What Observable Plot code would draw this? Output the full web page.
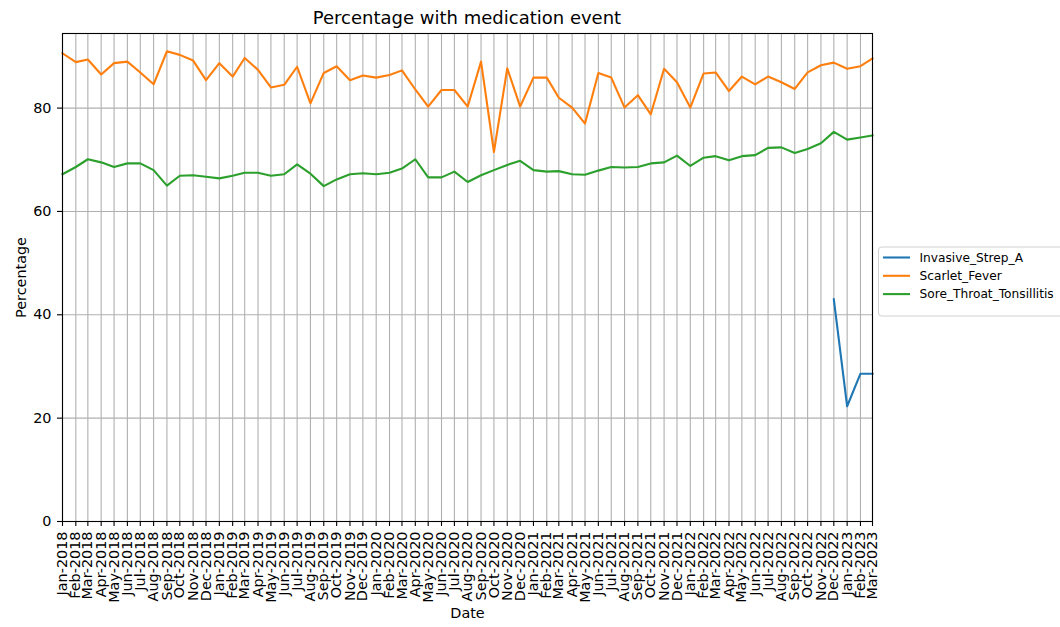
<!DOCTYPE html>
<html><head><meta charset="utf-8">
<script src="https://cdn.jsdelivr.net/npm/d3@7"></script>
<script src="https://cdn.jsdelivr.net/npm/@observablehq/plot@0.6"></script>
<style>body{margin:0;background:#fff;} #chart svg{display:block}</style>
</head><body><div id="chart"></div>
<script>
const months = [
 "2018-01","2018-02","2018-03","2018-04","2018-05","2018-06","2018-07","2018-08","2018-09","2018-10","2018-11","2018-12",
 "2019-01","2019-02","2019-03","2019-04","2019-05","2019-06","2019-07","2019-08","2019-09","2019-10","2019-11","2019-12",
 "2020-01","2020-02","2020-03","2020-04","2020-05","2020-06","2020-07","2020-08","2020-09","2020-10","2020-11","2020-12",
 "2021-01","2021-02","2021-03","2021-04","2021-05","2021-06","2021-07","2021-08","2021-09","2021-10","2021-11","2021-12",
 "2022-01","2022-02","2022-03","2022-04","2022-05","2022-06","2022-07","2022-08","2022-09","2022-10","2022-11","2022-12",
 "2023-01","2023-02","2023-03"];
const seriesNames = ["Invasive_Strep_A","Scarlet_Fever","Sore_Throat_Tonsillitis"];
const seriesColors = ["#1f77b4","#ff7f0e","#2ca02c"];
const invasiveStrepA = [
 null,null,null,null,null,null,null,null,null,null,null,null,
 null,null,null,null,null,null,null,null,null,null,null,null,
 null,null,null,null,null,null,null,null,null,null,null,null,
 null,null,null,null,null,null,null,null,null,null,null,null,
 null,null,null,null,null,null,null,null,null,null,null,43.0,
 22.3,28.6,28.6];
const scarletFever = [
 90.6,88.9,89.4,86.5,88.7,89.0,86.9,84.6,91.0,90.3,89.2,85.4,
 88.7,86.1,89.7,87.4,84.0,84.5,88.0,80.9,86.8,88.1,85.4,86.3,
 85.9,86.4,87.3,83.6,80.3,83.5,83.5,80.3,89.0,71.5,87.7,80.3,
 85.9,85.9,82.0,80.1,77.0,86.8,85.9,80.1,82.5,78.8,87.6,85.0,
 80.1,86.7,86.9,83.3,86.1,84.6,86.1,85.0,83.7,86.9,88.3,88.8,
 87.6,88.1,89.6];
const soreThroatTonsillitis = [
 67.2,68.6,70.1,69.5,68.6,69.3,69.3,68.0,65.0,66.9,67.0,66.7,
 66.4,66.9,67.5,67.5,66.9,67.2,69.1,67.3,64.9,66.2,67.2,67.4,
 67.2,67.5,68.3,70.1,66.6,66.6,67.7,65.7,67.0,68.0,69.0,69.8,
 68.0,67.7,67.8,67.2,67.1,67.9,68.6,68.5,68.6,69.3,69.5,70.8,
 68.8,70.4,70.7,69.9,70.7,70.9,72.3,72.4,71.3,72.1,73.2,75.4,
 73.9,74.3,74.7];
const yTicks = [0,20,40,60,80];

const parse = d3.utcParse("%Y-%m");
const dates = months.map(parse);
const seriesValues = [invasiveStrepA, scarletFever, soreThroatTonsillitis];
const rows = [];
seriesNames.forEach((name, s) => {
  seriesValues[s].forEach((v, i) => { if (v != null) rows.push({date: dates[i], value: v, series: name}); });
});
const vals = rows.map(d => d.value);
const vmax = d3.max(vals), vmin = d3.min(vals);
const ymax = vmax + 0.05 * (vmax - vmin);

const W = 1060, H = 627, mL = 62, mR = 188, mT = 33, mB = 106;
const gridStyle = {stroke: "#b0b0b0", strokeOpacity: 1, strokeWidth: 1.1};

const chart = Plot.plot({
  width: W, height: H, marginLeft: mL, marginRight: mR, marginTop: mT, marginBottom: mB,
  style: {fontFamily: "DejaVu Sans", fontSize: "14.4px", background: "white", color: "black"},
  x: {type: "utc", domain: [dates[0], dates[dates.length - 1]]},
  y: {domain: [0, ymax]},
  color: {domain: seriesNames, range: seriesColors},
  marks: [
    Plot.gridX(dates, gridStyle),
    Plot.gridY(yTicks, gridStyle),
    Plot.line(rows, {x: "date", y: "value", z: "series", stroke: "series", strokeWidth: 2.1, strokeLinejoin: "round", strokeLinecap: "square"}),
    Plot.frame({stroke: "black", strokeWidth: 1.1}),
    Plot.axisX(dates, {tickFormat: d3.utcFormat("%b-%Y"), tickRotate: -90, tickSize: 5, tickPadding: 5, strokeWidth: 1.1,
      label: "Date", labelAnchor: "center", labelArrow: "none", labelOffset: 96}),
    Plot.axisY(yTicks, {tickSize: 5, tickPadding: 6, strokeWidth: 1.1,
      label: "Percentage", labelAnchor: "center", labelArrow: "none", labelOffset: 47})
  ]
});
document.getElementById("chart").appendChild(chart);

const svg = d3.select(chart);
svg.append("text")
  .attr("x", (mL + (W - mR)) / 2).attr("y", 23.5)
  .attr("text-anchor", "middle")
  .attr("font-family", "DejaVu Sans").attr("font-size", "18px").attr("fill", "black")
  .text("Percentage with medication event");

const lg = svg.append("g");
lg.append("rect").attr("x", 878.5).attr("y", 247).attr("width", 200).attr("height", 69)
  .attr("rx", 3).attr("fill", "white").attr("stroke", "#d0d0d0");
seriesNames.forEach((name, i) => {
  const y = 257.5 + i * 18.3;
  lg.append("line").attr("x1", 883).attr("x2", 910).attr("y1", y).attr("y2", y)
    .attr("stroke", seriesColors[i]).attr("stroke-width", 2.1);
  lg.append("text").attr("x", 919.5).attr("y", y).attr("dy", "0.35em")
    .attr("text-anchor", "start")
    .attr("font-family", "DejaVu Sans").attr("font-size", "12.2px").attr("fill", "black")
    .text(name);
});
</script>
</body></html>
